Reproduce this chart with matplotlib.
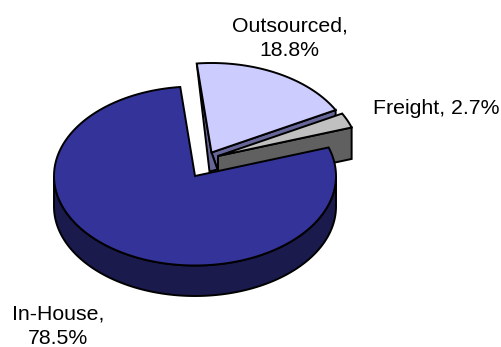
import numpy as np
import matplotlib
matplotlib.use("Agg")
import matplotlib.pyplot as plt
from matplotlib.patches import Polygon

# shares of the pie, going counter-clockwise from the top
names = ["In-House", "Freight", "Outsourced"]
shares = [78.5, 2.7, 18.8]

top_colors = ["#333399", "#C0C0C0", "#CCCCFF"]
side_colors = ["#1A1A4D", "#606060", "#666699"]

# slice centres after exploding, in pixels
centers = [(195, 176), (218, 156), (211.5, 152.5)]
start = 96
rx, ry = 141, 89.5
depth = 30.5

plt.rcParams["font.family"] = ["Liberation Sans", "DejaVu Sans"]

fig = plt.figure(figsize=(5.01, 3.47), dpi=100)
ax = fig.add_axes([0, 0, 1, 1])
ax.set_xlim(0, 501)
ax.set_ylim(347, 0)
ax.axis("off")


def arc(c, t0, t1):
    t = np.radians(np.linspace(t0, t1, 200))
    return np.column_stack([c[0] + rx * np.cos(t), c[1] - ry * np.sin(t)])


def face(pts, color):
    ax.add_patch(Polygon(pts, closed=True, facecolor=color, edgecolor="black",
                         linewidth=1.4, joinstyle="miter"))


# slice limits in degrees
edges = start + np.cumsum([0] + shares) * 3.6
house = (edges[0], edges[1])
freight = (edges[1], edges[2])
outs = (edges[2], edges[3])

# outsourced cut faces
c = np.array(centers[2])
p = arc(c, outs[0], outs[0])[0]
face([c, p, p + [0, 6], c + [6, 17]], side_colors[2])
q = arc(c, outs[1], outs[1])[0]
face([q, c, c + [6, 17], c + [-2, 19]], side_colors[2])

# freight slice
c = np.array(centers[1])
p = arc(c, freight[0], freight[0])[0]
face([c, p, p + [0, depth + 1], c + [0, depth + 1]], side_colors[1])
face(np.vstack([[c], arc(c, freight[0], freight[1])]), top_colors[1])

# outsourced top
c = np.array(centers[2])
face(np.vstack([[c], arc(c, outs[0], outs[1])]), top_colors[2])

# in-house rim and top
c = np.array(centers[0])
rim = arc(c, 180, 360)
face(np.vstack([rim, rim[::-1] + [0, depth]]), side_colors[0])
face(np.vstack([[c], arc(c, house[0], house[1])]), top_colors[0])

# labels
ax.text(289.5, 38.5, f"{names[2]},\n{shares[2]}%", ha="center", va="center",
        fontsize=15.3, linespacing=1.35)
ax.text(373, 108, f"{names[1]}, {shares[1]}%", ha="left", va="center", fontsize=15.3)
ax.text(58, 326, f"{names[0]},\n{shares[0]}%", ha="center", va="center",
        fontsize=15.3, linespacing=1.35)

fig.savefig("out.png", dpi=100)
